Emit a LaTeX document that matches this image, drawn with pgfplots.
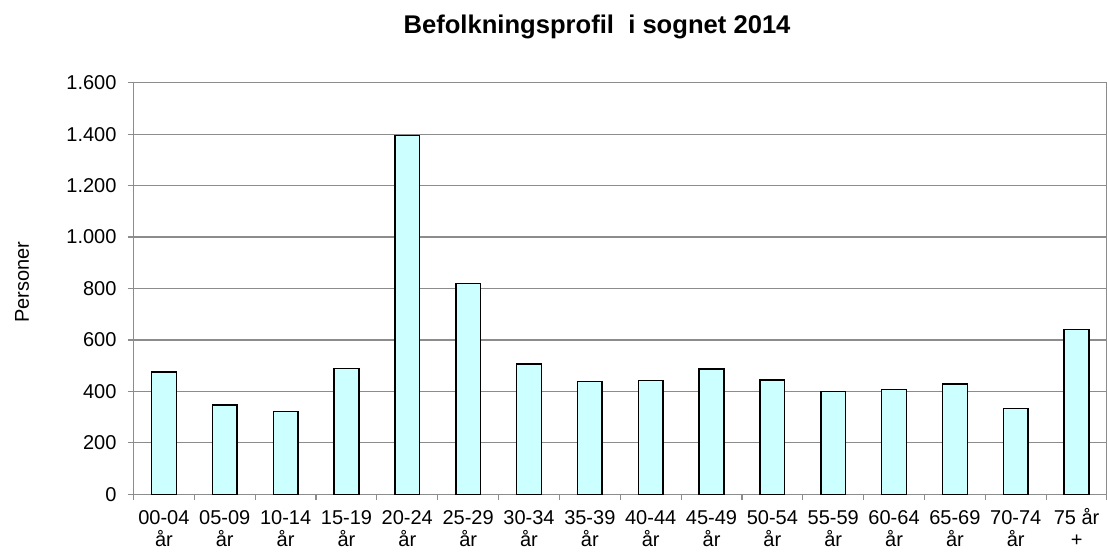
\documentclass[border=0pt]{standalone}
\usepackage{pgfplots}
\pgfplotsset{compat=1.18}
\usepackage{fontspec}
\setmainfont{Liberation Sans}
\definecolor{barfill}{HTML}{CCFFFF}
\definecolor{gridgray}{HTML}{8C8C8C}
\newcommand{\lab}[2]{\begin{tabular}{@{}c@{}}#1\\#2\end{tabular}}
\begin{document}
\begin{tikzpicture}
\path[use as bounding box] (0,0) rectangle (553.5pt,277pt);
\begin{axis}[
  at={(66.75pt,29.85pt)}, anchor=south west,
  scale only axis, width=486.75pt, height=205.8pt,
  xmin=-0.5, xmax=15.5, ymin=0, ymax=1600,
  ybar, bar width=12.35pt,
  xtick={0,...,15},
  xticklabels={\lab{00-04}{år},\lab{05-09}{år},\lab{10-14}{år},\lab{15-19}{år},\lab{20-24}{år},\lab{25-29}{år},\lab{30-34}{år},\lab{35-39}{år},\lab{40-44}{år},\lab{45-49}{år},\lab{50-54}{år},\lab{55-59}{år},\lab{60-64}{år},\lab{65-69}{år},\lab{70-74}{år},\lab{75 år}{+}},
  major x tick style={draw=none},
  minor xtick={-0.5,0.5,...,15.5},
  minor tick length=3pt,
  xtick align=outside, ytick align=outside,
  xtick pos=bottom, ytick pos=left,
  ytick={0,200,...,1600},
  major tick length=3pt,
  tick style={gridgray, line width=0.6pt},
  ymajorgrids, grid style={gridgray, line width=0.6pt},
  axis line style={gridgray, line width=0.6pt},
  /pgf/number format/.cd, 1000 sep={.}, assume math mode=true,
  /pgfplots/.cd,
  tick label style={font=\fontsize{10}{11}\selectfont},
  xticklabel style={anchor=north, inner sep=0pt, yshift=-4pt},
  yticklabel style={xshift=-2pt},
]
\addplot[fill=barfill, draw=black, line width=0.75pt] coordinates {
(0,475) (1,347) (2,321) (3,490) (4,1394) (5,820) (6,507) (7,439)
(8,443) (9,488) (10,444) (11,399) (12,408) (13,428) (14,334) (15,641)};
\end{axis}
\node[font=\bfseries\fontsize{12.8}{15}\selectfont] at (298.5pt,263.5pt) {Befolkningsprofil\ \ i sognet 2014};
\node[rotate=90, font=\fontsize{10}{12}\selectfont] at (11pt,136pt) {Personer};
\end{tikzpicture}
\end{document}
